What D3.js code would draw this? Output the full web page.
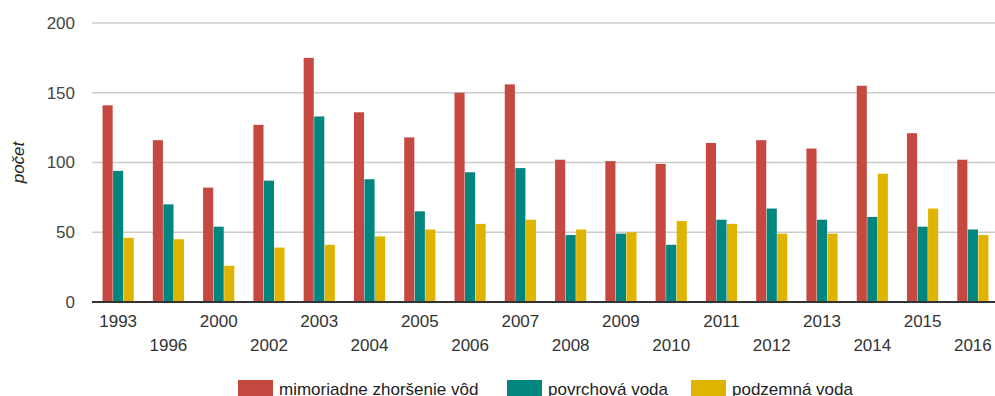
<!DOCTYPE html>
<html>
<head>
<meta charset="utf-8">
<script src="https://cdn.jsdelivr.net/npm/d3@7"></script>
<style>
  html, body { margin: 0; padding: 0; background: #fff; }
  svg { display: block; font-family: "Liberation Sans", Arial, sans-serif; }
</style>
</head>
<body>
<svg id="chart" width="995" height="396"></svg>
<script>
// Years shown on the category axis
const years = ["1993","1996","2000","2002","2003","2004","2005","2006","2007","2008",
               "2009","2010","2011","2012","2013","2014","2015","2016"];

// Series names (legend order)
const seriesNames = ["mimoriadne zhoršenie vôd", "povrchová voda", "podzemná voda"];

// Counts per year for each series
const mimoriadne = [141,116,82,127,175,136,118,150,156,102,101,99,114,116,110,155,121,102];
const povrchova  = [94,70,54,87,133,88,65,93,96,48,49,41,59,67,59,61,54,52];
const podzemna   = [46,45,26,39,41,47,52,56,59,52,50,58,56,49,49,92,67,48];

const yTicks = [0, 50, 100, 150, 200];
const colors = ["#c54941", "#00857f", "#dfb400"];

const series = [mimoriadne, povrchova, podzemna];

const svg = d3.select("#chart");
const plotLeft = 93, plotRight = 998, plotTop = 23, plotBottom = 302;

const x = d3.scaleBand().domain(years).range([plotLeft, plotRight]).paddingInner(0.38).paddingOuter(0.19);
const xs = d3.scaleBand().domain(d3.range(series.length)).range([0, x.bandwidth()]).paddingInner(0.04);
const y = d3.scaleLinear().domain([0, 200]).range([plotBottom, plotTop]);

// Horizontal grid lines
svg.append("g")
  .selectAll("line")
  .data(yTicks.filter(d => d > 0))
  .join("line")
  .attr("x1", 92).attr("x2", 995)
  .attr("y1", d => y(d)).attr("y2", d => y(d))
  .attr("stroke", "#cccccc").attr("stroke-width", 1.5);

// Y axis labels
const yAxis = d3.axisLeft(y).tickValues(yTicks).tickSize(0).tickPadding(0);
const gy = svg.append("g").attr("transform", "translate(75,0)").call(yAxis);
gy.select(".domain").remove();
gy.selectAll("text")
  .attr("font-size", 17).attr("fill", "#444").attr("font-family", "Liberation Sans, Arial, sans-serif");

// Y axis title
svg.append("text")
  .attr("transform", `translate(24,${(plotTop + plotBottom) / 2}) rotate(-90)`)
  .attr("text-anchor", "middle")
  .attr("font-size", 17).attr("font-style", "italic").attr("fill", "#222")
  .text("počet");

// Bars
const groups = svg.append("g")
  .selectAll("g")
  .data(years)
  .join("g")
  .attr("transform", d => `translate(${x(d)},0)`);

groups.selectAll("rect")
  .data((d, i) => series.map((s, k) => ({ k, v: s[i] })))
  .join("rect")
  .attr("x", d => xs(d.k))
  .attr("width", xs.bandwidth())
  .attr("y", d => y(d.v))
  .attr("height", d => y(0) - y(d.v))
  .attr("fill", d => colors[d.k]);

// Baseline
svg.append("line")
  .attr("x1", 92).attr("x2", 995)
  .attr("y1", y(0)).attr("y2", y(0))
  .attr("stroke", "#333").attr("stroke-width", 2);

// X axis labels, staggered on two rows
const xAxis = d3.axisBottom(x).tickSize(0).tickPadding(0);
const gx = svg.append("g").call(xAxis);
gx.select(".domain").remove();
gx.selectAll(".tick text")
  .attr("dy", null)
  .attr("y", (d, i) => i % 2 === 0 ? 327 : 351)
  .attr("font-size", 17).attr("fill", "#333")
  .attr("font-family", "Liberation Sans, Arial, sans-serif");

// Legend
const legendItems = [
  { name: seriesNames[0], color: colors[0], x: 238 },
  { name: seriesNames[1], color: colors[1], x: 507 },
  { name: seriesNames[2], color: colors[2], x: 691 }
];
const lg = svg.append("g").selectAll("g").data(legendItems).join("g")
  .attr("transform", d => `translate(${d.x},380)`);
lg.append("rect").attr("width", 35).attr("height", 18).attr("fill", d => d.color);
lg.append("text").attr("x", 41).attr("y", 15)
  .attr("font-size", 17).attr("fill", "#222")
  .text(d => d.name);
</script>
</body>
</html>
